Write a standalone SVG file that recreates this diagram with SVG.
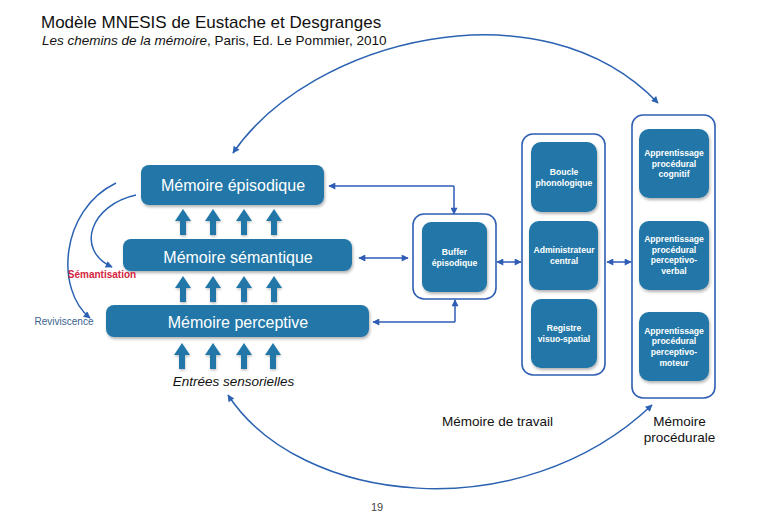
<svg xmlns="http://www.w3.org/2000/svg" width="771" height="527" viewBox="0 0 771 527">
<defs>
<style>
.box{fill:#2077a8;}
.main{filter:url(#sh);}
.outer{fill:#fff;stroke:#2f5fb3;stroke-width:1.6;}
.lbl{font-family:"Liberation Sans",Arial,sans-serif;fill:#fff;font-size:16px;text-anchor:middle;}
.sm{font-family:"Liberation Sans",Arial,sans-serif;fill:#fff;font-size:8.6px;font-weight:bold;text-anchor:middle;}
.txt{font-family:"Liberation Sans",Arial,sans-serif;fill:#111;}
.con{fill:none;stroke:#2f5cb5;stroke-width:1.5;}
.arc{fill:none;stroke:#2b62b2;stroke-width:1.5;}
.fat{fill:#2077a8;filter:url(#sh2);}
</style>
<filter id="sh" x="-10%" y="-20%" width="120%" height="150%">
<feDropShadow dx="1" dy="2" stdDeviation="1.5" flood-color="#000" flood-opacity="0.3"/>
</filter>
<filter id="sh2" x="-50%" y="-20%" width="200%" height="150%">
<feDropShadow dx="0.5" dy="1.5" stdDeviation="1" flood-color="#000" flood-opacity="0.25"/>
</filter>
<marker id="ah" viewBox="0 0 10 10" refX="9" refY="5" markerWidth="8" markerHeight="7" markerUnits="userSpaceOnUse" orient="auto-start-reverse">
<path d="M0,0 L10,5 L0,10 Z" fill="#2f5cb5"/>
</marker>
<marker id="ah2" viewBox="0 0 10 10" refX="9" refY="5" markerWidth="9" markerHeight="7" markerUnits="userSpaceOnUse" orient="auto-start-reverse">
<path d="M0,0 L10,5 L0,10 Z" fill="#2b62b2"/>
</marker>
<path id="fa" d="M0,0 L8,12 L3,12 L3,26 L-3,26 L-3,12 L-8,12 Z"/>
</defs>

<g id="title">
<text class="txt" x="41" y="28" font-size="17">Modèle MNESIS de Eustache et Desgranges</text>
<text class="txt" x="42" y="45" font-size="13.5"><tspan font-style="italic">Les chemins de la mémoire</tspan>, Paris, Ed. Le Pommier, 2010</text>
</g>

<g id="connectors">
<path class="arc" d="M233,153 C310,40 540,-20 658,103" marker-start="url(#ah2)" marker-end="url(#ah2)"/>
<path class="arc" d="M228,395 C300,505 520,530 652,405" marker-start="url(#ah2)" marker-end="url(#ah2)"/>
<path class="arc" d="M116,183 C60,210 55,290 90,318" marker-end="url(#ah2)"/>
<path class="arc" d="M136,195 C90,205 75,250 112,267" marker-end="url(#ah2)"/>
<path class="con" d="M454,186 L329,186" marker-end="url(#ah)"/>
<path class="con" d="M454,186 L454,214" marker-end="url(#ah)"/>
<path class="con" d="M359,258 L408,258" marker-start="url(#ah)" marker-end="url(#ah)"/>
<path class="con" d="M455,322 L373,322" marker-end="url(#ah)"/>
<path class="con" d="M455,322 L455,300" marker-end="url(#ah)"/>
<path class="con" d="M497,262 L521,262" marker-start="url(#ah)" marker-end="url(#ah)"/>
<path class="con" d="M607,262 L631,262" marker-start="url(#ah)" marker-end="url(#ah)"/>
</g>

<g id="fat-arrows">
<use href="#fa" class="fat" x="183" y="209"/>
<use href="#fa" class="fat" x="213" y="209"/>
<use href="#fa" class="fat" x="244" y="209"/>
<use href="#fa" class="fat" x="274" y="209"/>
<use href="#fa" class="fat" x="183" y="276"/>
<use href="#fa" class="fat" x="213" y="276"/>
<use href="#fa" class="fat" x="244" y="276"/>
<use href="#fa" class="fat" x="274" y="276"/>
<use href="#fa" class="fat" x="182" y="343"/>
<use href="#fa" class="fat" x="213" y="343"/>
<use href="#fa" class="fat" x="244" y="343"/>
<use href="#fa" class="fat" x="273" y="343"/>
</g>

<g id="episodique">
<rect class="box main" x="141" y="165" width="183" height="40" rx="8"/>
<text class="lbl" x="233" y="191">Mémoire épisodique</text>
</g>
<g id="semantique">
<rect class="box main" x="123" y="239" width="229" height="32" rx="8"/>
<text class="lbl" x="238" y="263">Mémoire sémantique</text>
</g>
<g id="perceptive">
<rect class="box main" x="106" y="305" width="263" height="32" rx="8"/>
<text class="lbl" x="238" y="328">Mémoire perceptive</text>
</g>

<g id="labels-left">
<text class="txt" x="102" y="278" font-size="10" font-weight="bold" fill="#d42440" text-anchor="middle" style="fill:#d42440">Sémantisation</text>
<text class="txt" x="64" y="325" font-size="10" text-anchor="middle" style="fill:#3a5f8f">Reviviscence</text>
<text class="txt" x="233.5" y="386" font-size="13.5" font-style="italic" text-anchor="middle">Entrées sensorielles</text>
</g>

<g id="buffer">
<rect class="outer" x="413" y="214" width="83" height="85" rx="11"/>
<rect class="box main" x="422" y="222" width="65" height="70" rx="9"/>
<text class="sm" x="454.5" y="255">Buffer</text>
<text class="sm" x="454.5" y="265.5">épisodique</text>
</g>

<g id="memoire-travail">
<rect class="outer" x="522" y="134" width="83" height="241" rx="11"/>
<rect class="box main" x="531" y="142" width="66" height="70" rx="10"/>
<text class="sm" x="564" y="175">Boucle</text>
<text class="sm" x="564" y="185.5">phonologique</text>
<rect class="box main" x="529" y="221" width="69" height="69" rx="10"/>
<text class="sm" x="564" y="253">Administrateur</text>
<text class="sm" x="564" y="264">central</text>
<rect class="box main" x="531" y="299" width="66" height="69" rx="10"/>
<text class="sm" x="564" y="331">Registre</text>
<text class="sm" x="564" y="342">visuo-spatial</text>
<text class="txt" x="497.5" y="426" font-size="13.5" text-anchor="middle">Mémoire de travail</text>
</g>

<g id="memoire-procedurale">
<rect class="outer" x="632" y="115" width="83" height="283" rx="11"/>
<rect class="box main" x="639" y="129" width="70" height="69" rx="10"/>
<text class="sm" x="674" y="156">Apprentissage</text>
<text class="sm" x="674" y="167">procédural</text>
<text class="sm" x="674" y="177">cognitif</text>
<rect class="box main" x="639" y="221" width="70" height="69" rx="10"/>
<text class="sm" x="674" y="242">Apprentissage</text>
<text class="sm" x="674" y="253">procédural</text>
<text class="sm" x="674" y="263">perceptivo-</text>
<text class="sm" x="674" y="274">verbal</text>
<rect class="box main" x="639" y="312" width="70" height="69" rx="10"/>
<text class="sm" x="674" y="334">Apprentissage</text>
<text class="sm" x="674" y="344">procédural</text>
<text class="sm" x="674" y="355">perceptivo-</text>
<text class="sm" x="674" y="366">moteur</text>
<text class="txt" x="679.5" y="426" font-size="13.5" text-anchor="middle">Mémoire</text>
<text class="txt" x="679.5" y="442" font-size="13.5" text-anchor="middle">procédurale</text>
</g>

<text class="txt" x="377" y="511" font-size="11" text-anchor="middle" style="fill:#444">19</text>
</svg>
